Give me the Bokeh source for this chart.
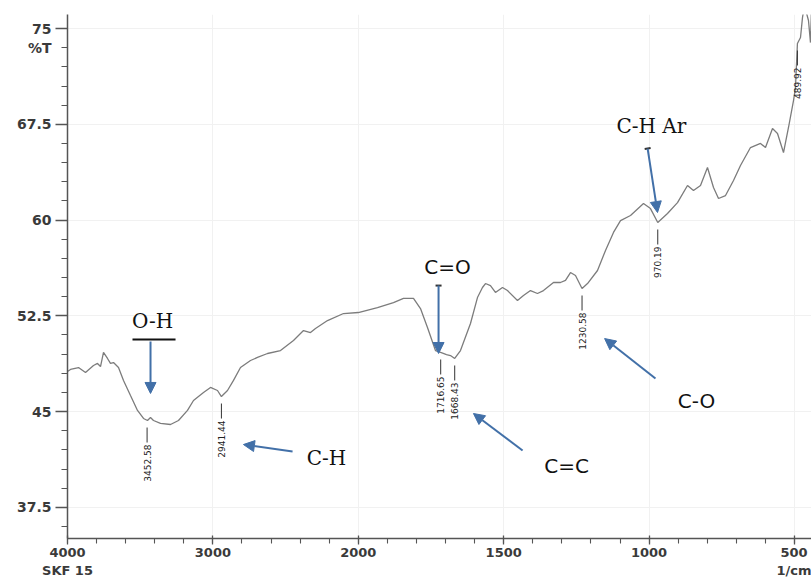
import numpy as np
from bokeh.plotting import figure
from bokeh.models import (Range1d, FixedTicker, Arrow, NormalHead, TeeHead, Label,
                          ColumnDataSource, CustomJSTickFormatter)
from bokeh.embed import file_html
from bokeh.resources import INLINE
from bokeh.core.properties import value

# ---------------- data ----------------
wavenumber = [4000, 3979.4, 3924.3, 3876.2, 3821.2, 3793.7, 3773.0, 3752.4, 3724.9, 3704.3,
              3683.6, 3649.2, 3614.8, 3566.7, 3518.6, 3477.3, 3449.8, 3429.2, 3408.5, 3360.4,
              3291.6, 3236.6, 3174.7, 3133.4, 3064.6, 3016.5, 2968.4, 2941.4, 2899.6, 2858.3,
              2810.2, 2741.4, 2693.3, 2624.5, 2535.1, 2445.7, 2376.9, 2328.8, 2294.4, 2211.8,
              2101.8, 2000.0, 1934.0, 1879.0, 1844.6, 1810.2, 1786.1, 1762.1, 1734.6, 1716.7,
              1696.8, 1683.0, 1668.4, 1648.6, 1614.2, 1590.2, 1573.0, 1562.6, 1545.5, 1528.3,
              1504.2, 1487.0, 1452.6, 1432.0, 1407.9, 1383.8, 1363.2, 1328.8, 1304.7, 1287.5,
              1270.3, 1253.1, 1230.6, 1211.8, 1177.4, 1149.9, 1122.4, 1098.3, 1063.9, 1019.2,
              995.2, 970.2, 936.7, 902.3, 867.9, 847.3, 823.2, 799.2, 778.5, 761.3,
              737.2, 709.7, 685.7, 651.3, 616.9, 599.7, 575.6, 558.4, 537.8, 520.6,
              503.4, 496.6, 489.9, 479.3, 472.5, 465.6, 451.9, 445.0, 441.6]
transmittance = [48.14, 48.30, 48.45, 48.06, 48.61, 48.77, 48.53, 49.63, 49.16, 48.77,
                 48.84, 48.45, 47.44, 46.26, 45.09, 44.46, 44.30, 44.54, 44.30, 44.07,
                 43.99, 44.30, 45.09, 45.87, 46.50, 46.89, 46.65, 46.18, 46.65, 47.44,
                 48.45, 49.00, 49.24, 49.55, 49.78, 50.57, 51.35, 51.19, 51.51, 52.13,
                 52.68, 52.76, 53.15, 53.54, 53.86, 53.86, 53.07, 51.59, 49.78, 49.63,
                 49.47, 49.39, 49.16, 49.78, 51.90, 53.93, 54.72, 55.03, 54.87, 54.33,
                 54.72, 54.48, 53.70, 54.09, 54.48, 54.25, 54.48, 55.11, 55.11, 55.27,
                 55.89, 55.66, 54.64, 55.03, 56.05, 57.62, 59.03, 59.96, 60.36, 61.30,
                 60.90, 59.81, 60.51, 61.37, 62.71, 62.31, 62.71, 64.12, 62.55, 61.69,
                 61.92, 63.10, 64.27, 65.68, 66.00, 65.68, 67.17, 66.78, 65.29, 67.25,
                 69.36, 70.38, 73.83, 74.30, 75.86, 76.80, 75.63, 73.90, 76.41]

peak_wn = [3452.58, 2941.44, 1716.65, 1668.43, 1230.58, 970.19, 489.92]
peak_T = [44.30, 46.18, 49.63, 49.16, 54.64, 59.81, 73.83]
peak_labels = ["3452.58", "2941.44", "1716.65", "1668.43", "1230.58", "970.19", "489.92"]

x_major_wn = [4000, 3000, 2000, 1500, 1000, 500]
y_major = [37.5, 45, 52.5, 60, 67.5, 75]
sample_name = "SKF 15"
x_unit = "1/cm"
y_unit = "%T"

# band annotations: text, text position (wn, T), arrow start (wn, T), arrow end (wn, T)
band_text = ["O-H", "C-H", "C=O", "C=C", "C-O", "C-H Ar"]
band_text_pos = [(3415, 52.06), (2219, 41.33), (1693, 56.36), (1284, 40.70), (837, 45.79), (992, 67.33)]
band_arrow_from = [(3429, 50.49), (2452, 41.88), (1724, 54.87), (1435, 41.95), (978, 47.59), (1005, 65.60)]
band_arrow_to = [(3429, 46.42), (2790, 42.42), (1724, 49.55), (1604, 44.85), (1153, 50.72), (971, 60.59)]
band_serif = [True, True, False, False, False, True]
band_tee = [False, False, True, False, False, True]


def to_u(wn):
    """Shimadzu-style split axis: scale doubles below 2000 1/cm."""
    wn = np.asarray(wn, dtype=float)
    return np.where(wn >= 2000, wn, 2 * wn - 2000)


# ---------------- figure ----------------
X_START, X_END = 4000, -1117
Y_START, Y_END = 35.06, 76.1
W, H = 811, 581
B_LEFT, B_RIGHT, B_TOP, B_BOTTOM = 67, 0, 14, 43

p = figure(width=W, height=H, output_backend="svg", toolbar_location=None,
           x_range=Range1d(X_START, X_END), y_range=Range1d(Y_START, Y_END),
           min_border_left=B_LEFT, min_border_right=B_RIGHT,
           min_border_top=B_TOP, min_border_bottom=B_BOTTOM)
p.outline_line_color = None
p.background_fill_color = "white"
p.border_fill_color = "white"

px_per_T = (H - B_TOP - B_BOTTOM) / (Y_END - Y_START)

# axes
minor_u = list(range(4000, -1201, -200))
p.xaxis.ticker = FixedTicker(ticks=to_u(x_major_wn).tolist(), minor_ticks=minor_u)
p.xaxis.formatter = CustomJSTickFormatter(
    args=dict(first=x_major_wn[0], last=x_major_wn[-1], name=sample_name, unit=x_unit),
    code="""
const wn = tick >= 2000 ? tick : Math.round((tick + 2000) / 2);
if (wn == first) return String(wn) + "\\n" + name;
if (wn == last) return String(wn) + "\\n" + unit;
return String(wn);
""")
minor_y = [round(36 + 1.5 * i, 2) for i in range(28)]
p.yaxis.ticker = FixedTicker(ticks=y_major, minor_ticks=minor_y)
p.yaxis.formatter = CustomJSTickFormatter(
    args=dict(top=y_major[-1], unit=y_unit),
    code="""
if (tick == top) return " \\n" + String(tick) + "\\n" + unit;
return String(tick);
""")

for ax in (p.xaxis[0], p.yaxis[0]):
    ax.axis_line_color = "#555555"
    ax.axis_line_width = 1.5
    ax.major_tick_line_color = "#555555"
    ax.minor_tick_line_color = "#555555"
    ax.major_tick_line_width = 1.3
    ax.minor_tick_line_width = 1.1
    ax.major_label_text_font = "DejaVu Sans"
    ax.major_label_text_font_style = "bold"
    ax.major_label_text_color = "#3a3a3a"
    ax.minor_tick_in = 0

p.xaxis.major_label_text_font_size = "13px"
p.yaxis.major_label_text_font_size = "14px"
p.xaxis.major_tick_in = 3
p.xaxis.major_tick_out = 6
p.xaxis.minor_tick_out = 5
p.xaxis.major_label_standoff = 0
p.yaxis.major_tick_in = 0
p.yaxis.major_tick_out = 12
p.yaxis.minor_tick_out = 6
p.yaxis.major_label_standoff = 4

p.xgrid.grid_line_color = "#f1f1f1"
p.ygrid.grid_line_color = "#f1f1f1"

# spectrum
src = ColumnDataSource(dict(u=to_u(wavenumber), t=transmittance))
p.line("u", "t", source=src, line_color="#7c7c7c", line_width=1.3)

# peak labels
pk_u = to_u(peak_wn)
pk_T = np.asarray(peak_T)
p.segment(x0=pk_u, y0=pk_T - 7 / px_per_T, x1=pk_u, y1=pk_T - 22 / px_per_T,
          line_color="#333333", line_width=1)
p.text(x=pk_u, y=pk_T - 24 / px_per_T, text=peak_labels, angle=np.pi / 2,
       text_align="right", text_baseline="middle", text_font=value("DejaVu Sans"),
       text_font_size="9px", text_color="#222222")

# band annotations
BLUE = "#4270a8"
for txt, tp, a0, a1, serif, tee in zip(band_text, band_text_pos, band_arrow_from,
                                      band_arrow_to, band_serif, band_tee):
    p.add_layout(Label(x=float(to_u(tp[0])), y=tp[1], text=txt, text_align="center",
                       text_baseline="middle",
                       text_font="DejaVu Serif" if serif else "DejaVu Sans",
                       text_font_size="20px", text_color="#111111"))
    start = TeeHead(size=6, line_color="#333333", line_width=2) if tee else None
    p.add_layout(Arrow(x_start=float(to_u(a0[0])), y_start=a0[1],
                       x_end=float(to_u(a1[0])), y_end=a1[1],
                       line_color=BLUE, line_width=2, start=start,
                       end=NormalHead(size=11, fill_color=BLUE, line_color=BLUE)))

# underline bar above O-H arrow
p.segment(x0=[3553], y0=[50.65], x1=[3257], y1=[50.65], line_color="#111111", line_width=2)

open("out.html", "w").write(file_html(p, INLINE))
